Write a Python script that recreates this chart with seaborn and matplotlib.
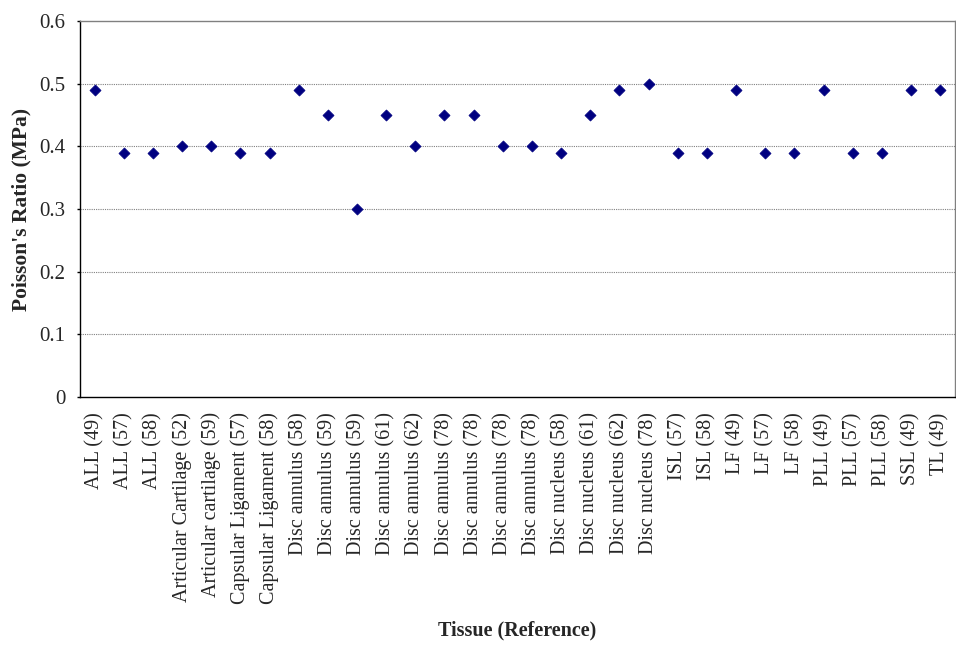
import matplotlib
matplotlib.use("Agg")
import matplotlib.pyplot as plt
import seaborn as sns
import pandas as pd

tissues = ["ALL (49)", "ALL (57)", "ALL (58)", "Articular Cartilage (52)", "Articular cartilage (59)",
           "Capsular Ligament (57)", "Capsular Ligament (58)", "Disc annulus (58)", "Disc annulus (59)",
           "Disc annulus (59)", "Disc annulus (61)", "Disc annulus (62)", "Disc annulus (78)",
           "Disc annulus (78)", "Disc annulus (78)", "Disc annulus (78)", "Disc nucleus (58)",
           "Disc nucleus (61)", "Disc nucleus (62)", "Disc nucleus (78)", "ISL (57)", "ISL (58)",
           "LF (49)", "LF (57)", "LF (58)", "PLL (49)", "PLL (57)", "PLL (58)", "SSL (49)", "TL (49)"]
ratio = [0.49, 0.39, 0.39, 0.40, 0.40, 0.39, 0.39, 0.49, 0.45, 0.30, 0.45, 0.40, 0.45, 0.45,
         0.40, 0.40, 0.39, 0.45, 0.49, 0.50, 0.39, 0.39, 0.49, 0.39, 0.39, 0.49, 0.39, 0.39,
         0.49, 0.49]
yticks = [0, 0.1, 0.2, 0.3, 0.4, 0.5, 0.6]
ytick_labels = ["0", "0.1", "0.2", "0.3", "0.4", "0.5", "0.6"]

sns.set_style("white")
plt.rcParams['font.family'] = ['Liberation Serif', 'DejaVu Serif']

df = pd.DataFrame({"pos": range(len(tissues)), "ratio": ratio})

fig = plt.figure(figsize=(9.56, 6.45), dpi=100)
ax = fig.add_axes([0.0837, 0.3845, 0.915, 0.583])
sns.scatterplot(data=df, x="pos", y="ratio", ax=ax, marker="D", s=32,
                color="#000080", edgecolor="#000080", linewidth=0.5, zorder=3)

ax.set_xlim(-0.5, len(tissues) - 0.5)
ax.set_ylim(0, 0.6)
ax.set_yticks(yticks)
ax.set_yticklabels(ytick_labels, fontsize=15)
ax.set_xticks(range(len(tissues)))
ax.set_xticklabels(tissues, rotation=90, fontsize=14.5)
ax.tick_params(axis="y", direction="out", length=2.5, width=1, color="black", left=True, pad=8)
ax.tick_params(axis="x", length=0, pad=11)
for y in yticks[1:-1]:
    ax.axhline(y, color="#808080", linewidth=0.8, linestyle=(0, (1, 1)), zorder=1)

ax.spines["left"].set_color("black")
ax.spines["bottom"].set_color("black")
ax.spines["top"].set_color("#808080")
ax.spines["right"].set_color("#808080")
for s in ax.spines.values():
    s.set_linewidth(1)

ax.set_xlabel("Tissue (Reference)", fontsize=14.5, fontweight="bold")
ax.set_ylabel("Poisson's Ratio (MPa)", fontsize=15.5, fontweight="bold")
ax.xaxis.set_label_coords(0.5, -0.595)
ax.yaxis.set_label_coords(-0.056, 0.5)

fig.savefig("out.png", dpi=100, facecolor="white")
